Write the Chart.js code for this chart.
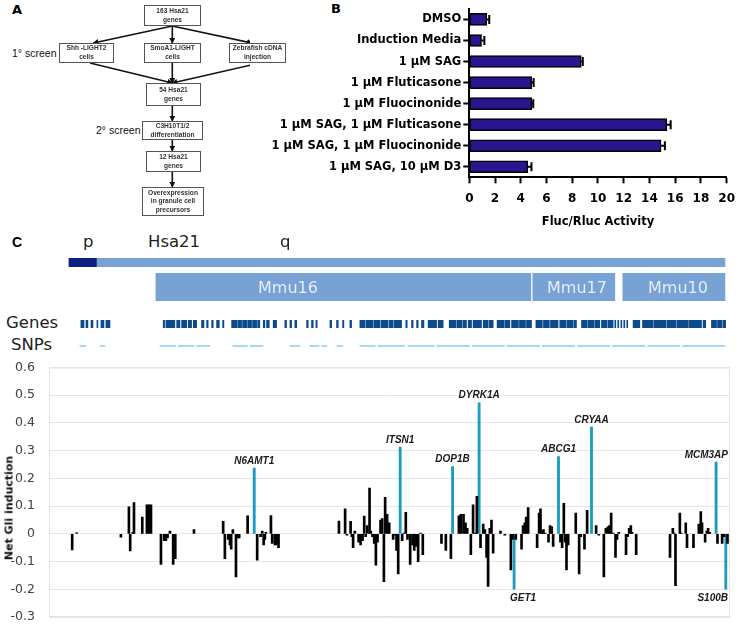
<!DOCTYPE html>
<html lang="en">
<head>
<meta charset="UTF-8" />
<title>Hsa21 Gli screen</title>
<script src="https://cdn.jsdelivr.net/npm/chart.js"></script>
<style>
  body { margin: 0; background: #fff; }
  #page { position: relative; width: 743px; height: 625px; overflow: hidden; font-family: "Liberation Sans", Arial, sans-serif; }
  .abs { position: absolute; }
  .panel { font-family: "DejaVu Sans", sans-serif; font-weight: bold; font-size: 13px; color: #000; }
  .box {
    position: absolute; box-sizing: border-box; border: 1px solid #555;
    display: flex; align-items: center; justify-content: center; text-align: center;
    font: bold 6.6px/8.6px "Liberation Sans", Arial, sans-serif; color: #333; background: #fff;
    will-change: transform; -webkit-font-smoothing: antialiased;
  }
  .mid { transform: translateY(-50%); line-height: 1; white-space: nowrap; }
  .screen { font-size: 10.5px; color: #111; }
  .trk { font-family: "DejaVu Sans", sans-serif; font-size: 16.5px; color: #222; }
  .mmu { font-family: "DejaVu Sans", sans-serif; font-size: 16px; color: #e3ecf8; transform: translate(-50%, -50%); line-height: 1; }
  canvas { position: absolute; }
</style>
</head>
<body>
<div id="page">
  <!-- panel A: flow chart -->
  <div class="abs panel" style="left:12px; top:2px;">A</div>
  <svg class="abs" style="left:0; top:0;" width="250" height="230">
    <defs>
      <marker id="ah" markerWidth="6" markerHeight="6" refX="5" refY="3" orient="auto" markerUnits="userSpaceOnUse">
        <path d="M0,0 L6,3 L0,6 z" fill="#111" />
      </marker>
    </defs>
    <g stroke="#111" stroke-width="1.6" marker-end="url(#ah)">
      <line x1="172.3" y1="26" x2="93.5" y2="43" />
      <line x1="172.3" y1="26" x2="172.3" y2="43" />
      <line x1="172.3" y1="26" x2="252" y2="43" />
      <line x1="90" y1="63" x2="172.3" y2="83" />
      <line x1="172.3" y1="63" x2="172.3" y2="83" />
      <line x1="251" y1="65" x2="172.3" y2="83" />
      <line x1="172.3" y1="105.7" x2="172.3" y2="120.7" />
      <line x1="172.3" y1="140" x2="172.3" y2="150.7" />
      <line x1="172.3" y1="171.7" x2="172.3" y2="186.7" />
    </g>
  </svg>
  <div class="box" style="left:144px; top:5px; width:57px; height:21px;">163 Hsa21<br>genes</div>
  <div class="box" style="left:59px; top:43px; width:55px; height:20px;">Shh -LIGHT2<br>cells</div>
  <div class="box" style="left:144px; top:43px; width:57px; height:20px;">SmoA1-LIGHT<br>cells</div>
  <div class="box" style="left:229px; top:43px; width:57px; height:20px;">Zebrafish cDNA<br>injection</div>
  <div class="box" style="left:146px; top:83px; width:55px; height:23px;">54 Hsa21<br>genes</div>
  <div class="box" style="left:142px; top:121px; width:61px; height:19px;">C3H10T1/2<br>differentiation</div>
  <div class="box" style="left:146px; top:151px; width:55px; height:21px;">12 Hsa21<br>genes</div>
  <div class="box" style="left:142px; top:187px; width:62px; height:29px;">Overexpression<br>in granule cell<br>precursors</div>
  <div class="abs mid screen" style="left:12px; top:52.5px;">1° screen</div>
  <div class="abs mid screen" style="left:96px; top:130px;">2° screen</div>

  <!-- panel B -->
  <div class="abs panel" style="left:331px; top:1px;">B</div>
  <canvas id="chartB" width="493" height="232" style="left:250px; top:0;"></canvas>

  <!-- panel C: map tracks -->
  <div class="abs panel" style="left:12px; top:234px; font-family:'Liberation Sans'; font-size:14px;">C</div>
  <div class="abs mid trk" style="left:83px; top:242px;">p</div>
  <div class="abs mid trk" style="left:148px; top:242px;">Hsa21</div>
  <div class="abs mid trk" style="left:280px; top:242px;">q</div>
  <canvas id="trkChrom" width="681" height="9" style="left:49px; top:258px;"></canvas>
  <canvas id="trkMmu" width="681" height="28" style="left:49px; top:273px;"></canvas>
  <div class="abs mmu" style="left:288px; top:287.5px;">Mmu16</div>
  <div class="abs mmu" style="left:577px; top:287.5px;">Mmu17</div>
  <div class="abs mmu" style="left:678px; top:287.5px;">Mmu10</div>
  <div class="abs mid trk" style="left:6px; top:323px;">Genes</div>
  <div class="abs mid trk" style="left:11px; top:344.5px;">SNPs</div>
  <canvas id="trkGenes" width="681" height="8" style="left:49px; top:320px;"></canvas>
  <canvas id="trkSnps" width="681" height="2" style="left:49px; top:344.5px;"></canvas>

  <!-- panel C: Gli induction -->
  <canvas id="chartC" width="743" height="270" style="left:0; top:355px;"></canvas>
  <div class="abs" style="left:8.7px; top:508px; transform:translate(-50%,-50%) rotate(-90deg); font:bold 11px 'DejaVu Sans'; color:#111; white-space:nowrap;">Net Gli induction</div>
</div>

<script>
  // ---- panel B: luciferase reporter ----
  const treatments = ['DMSO', 'Induction Media', '1 µM SAG', '1 µM Fluticasone', '1 µM Fluocinonide',
    '1 µM SAG, 1 µM Fluticasone', '1 µM SAG, 1 µM Fluocinonide', '1 µM SAG, 10 µM D3'];
  const flucMeans = [1.35, 0.95, 8.7, 4.85, 4.85, 15.35, 14.9, 4.55];
  const flucErrors = [0.2, 0.22, 0.12, 0.15, 0.12, 0.3, 0.3, 0.28];
  const activityTicks = [0, 2, 4, 6, 8, 10, 12, 14, 16, 18, 20];

  // ---- panel C: Hsa21 map (Mb) ----
  const mapMin = -1.42, mapMax = 47.06;
  const chromSegs = [[0, 2.0], [2.0, 46.7]];
  const mmuSegs = [[6.19, 32.88], [33.02, 38.86], [39.43, 46.7]];
  const geneSegs = [
    [0.85, 1.07], [1.21, 1.35], [1.57, 1.71], [1.99, 2.06], [2.28, 2.49], [2.63, 2.92],
    [6.71, 6.81], [6.90, 7.54], [7.67, 7.90], [8.02, 8.38], [8.49, 8.73], [8.85, 9.09],
    [9.44, 9.61], [9.80, 9.91], [10.16, 10.27], [10.51, 10.70], [10.94, 11.03],
    [11.58, 11.94], [12.01, 12.29], [12.36, 12.65], [12.72, 13.00], [13.07, 13.36], [13.43, 13.59],
    [13.83, 13.95], [14.07, 14.26], [14.54, 14.78], [15.37, 15.49], [15.73, 15.85], [16.08, 16.21],
    [16.92, 17.03], [17.27, 17.39], [17.58, 17.67], [18.58, 18.70], [19.05, 19.17], [19.48, 19.57], [20.00, 20.12],
    [20.71, 21.07], [21.14, 21.66], [21.73, 22.13], [22.21, 22.72], [22.80, 23.08], [23.15, 23.68],
    [23.98, 24.08], [24.39, 24.50], [24.75, 24.86], [25.10, 25.27], [25.57, 26.17], [26.28, 26.64],
    [27.07, 27.54], [27.61, 27.97], [28.04, 28.30], [28.42, 28.66], [28.77, 29.37], [29.49, 29.84], [29.91, 30.20],
    [30.48, 30.95], [31.02, 31.39], [31.51, 32.00], [32.07, 32.50], [32.57, 32.93],
    [33.24, 33.70], [33.78, 34.20], [34.28, 34.82], [34.94, 35.40], [35.47, 35.90], [35.97, 36.13],
    [36.49, 36.90], [36.97, 37.40], [37.47, 37.79], [37.91, 38.30], [38.37, 38.74],
    [38.86, 38.93], [39.07, 39.14], [39.29, 39.36], [39.50, 39.57], [39.71, 39.78],
    [40.16, 40.64], [40.83, 41.60], [41.67, 42.50], [42.57, 43.20], [43.27, 44.10], [44.17, 45.03],
    [45.14, 45.33], [45.74, 46.10], [46.17, 46.50], [46.57, 46.75]
  ];
  const snpSegs = [
    [0.78, 1.21], [2.21, 2.56], [6.48, 7.6], [7.8, 8.9], [9.1, 10.03], [11.67, 12.7], [12.9, 13.81],
    [15.73, 16.44], [17.15, 17.8], [18.0, 18.36], [19.07, 19.5], [20.71, 21.8], [22.0, 23.91],
    [24.13, 26.0], [26.2, 28.5], [28.7, 31.0], [31.2, 33.5], [33.7, 36.0], [36.2, 38.5],
    [38.7, 41.0], [41.2, 43.5], [43.7, 46.7]
  ];

  // genes screened (position in Mb, net Gli induction)
  const genePos = [
    0.23, 0.55, 3.70, 4.27, 4.36, 4.55, 4.63, 5.22, 5.55, 5.69, 5.84, 6.55, 6.78, 6.90, 7.02, 7.19, 7.42, 7.57, 8.90,
    10.98, 11.10, 11.34, 11.46, 11.55, 11.67, 11.89, 12.03, 12.12, 12.72, 13.40, 13.64, 13.76, 13.86, 13.95, 14.02,
    14.38, 14.47, 14.66, 14.78, 14.92,
    19.22, 19.66, 19.79, 20.05, 20.14, 20.23, 20.35, 20.62, 20.76, 20.90, 21.02, 21.12, 21.23, 21.40, 21.49, 21.61,
    21.73, 21.85, 21.97, 22.18, 22.30, 22.42, 22.51, 22.65, 22.80, 23.08, 23.22, 23.32, 23.44, 23.72, 23.84, 23.98,
    24.10, 24.29, 24.46, 24.58, 24.70, 24.86, 25.03, 25.19,
    26.52, 26.83, 27.19, 27.76, 27.90, 28.09, 28.23, 28.35, 28.61, 28.77, 28.92, 29.04, 29.30, 29.49, 29.61, 29.73,
    29.84, 29.96, 30.08, 30.20, 30.72, 31.03, 31.46, 31.58, 31.81, 32.22, 32.33, 32.45, 32.55, 32.69,
    33.33, 33.47, 33.57, 33.66, 33.78, 33.90, 34.14, 34.25, 34.37, 34.47, 34.99, 35.11, 35.23, 35.32, 35.42, 35.54,
    36.08, 36.32, 36.44, 36.70, 36.89, 37.53, 37.72, 38.08, 38.22, 38.36, 38.48, 38.60, 38.74, 38.91, 39.02, 39.14,
    39.66, 39.78, 39.88, 40.00, 40.09, 40.38,
    42.79, 42.99, 43.08, 43.18, 43.49, 43.61, 43.91, 44.00, 44.46, 44.84, 44.98, 45.07, 45.29, 45.41, 45.50, 45.62,
    46.17, 46.50, 46.64, 46.88
  ];
  const gliInduction = [
    -0.058, 0.004, -0.012, 0.097, -0.062, 0.005, 0.113, 0.06, 0.105, 0.105, 0.105, -0.11, -0.025, -0.025, -0.015, 0.01, -0.11, -0.09, 0.015,
    0.045, -0.09, -0.02, -0.04, -0.055, 0.015, -0.155, -0.015, -0.015, 0.065, -0.095, -0.01, 0.01, -0.04, -0.02, 0.005,
    0.066, -0.035, -0.04, -0.04, -0.05,
    0.046, 0.09, -0.005, 0.045, -0.01, -0.05, 0.01, -0.03, -0.04, -0.025, 0.064, -0.01, 0.03, 0.165, 0.01, -0.01,
    -0.035, -0.113, -0.03, 0.05, 0.055, -0.173, 0.132, 0.07, 0.04, -0.02, -0.005, -0.06, -0.145, -0.025, 0.003, 0.078,
    -0.02, -0.11, -0.04, -0.06, -0.045, -0.1, 0.003, -0.075,
    -0.035, -0.06, -0.09, 0.065, 0.07, 0.07, 0.04, 0.02, -0.075, 0.105, 0.003, 0.135, -0.05, 0.035, 0.015, -0.085,
    -0.19, 0.02, 0.05, -0.07, 0.01, -0.005, -0.13, -0.02, -0.02, -0.055, 0.03, 0.04, 0.06, 0.095,
    -0.05, 0.075, 0.09, 0.01, 0.015, 0.003, -0.03, 0.03, 0.025, -0.045, -0.03, -0.05, 0.11, -0.03, -0.13, -0.04,
    0.075, -0.145, -0.01, -0.055, 0.085, 0.03, -0.005, -0.155, 0.02, 0.025, 0.03, 0.075, 0.003, -0.085, -0.02, 0.005,
    -0.075, -0.01, 0.02, 0.03, 0.005, -0.075,
    -0.085, 0.02, 0.003, -0.187, 0.075, 0.003, 0.04, -0.05, -0.05, 0.035, 0.08, 0.04, -0.03, 0.01, 0.02, 0.005,
    -0.035, -0.035, -0.01, -0.035
  ];
  // highlighted hits
  const hitNames = ['N6AMT1', 'ITSN1', 'DOP1B', 'DYRK1A', 'GET1', 'ABCG1', 'CRYAA', 'MCM3AP', 'S100B'];
  const hitPos = [13.19, 23.58, 27.31, 29.20, 31.69, 34.85, 37.20, 46.07, 46.76];
  const hitInduction = [0.237, 0.313, 0.243, 0.473, -0.2, 0.279, 0.385, 0.259, -0.2];

  const gliTicks = [-0.3, -0.2, -0.1, 0, 0.1, 0.2, 0.3, 0.4, 0.5, 0.6];

  // ---- plugins ----
  const errorBars = {
    id: 'errorBars',
    afterDatasetsDraw(chart) {
      const ctx = chart.ctx, x = chart.scales.x;
      ctx.save();
      ctx.strokeStyle = '#000';
      ctx.lineWidth = 2;
      chart.getDatasetMeta(0).data.forEach((bar, i) => {
        const end = x.getPixelForValue(flucMeans[i] + flucErrors[i]);
        ctx.beginPath();
        ctx.moveTo(bar.x, bar.y);
        ctx.lineTo(end, bar.y);
        ctx.moveTo(end, bar.y - 4.5);
        ctx.lineTo(end, bar.y + 4.5);
        ctx.stroke();
      });
      ctx.restore();
    }
  };

  const plotFrame = {
    id: 'plotFrame',
    beforeDatasetsDraw(chart) {
      const {ctx, chartArea: a} = chart;
      ctx.save();
      ctx.strokeStyle = '#e2e2e2';
      ctx.lineWidth = 1;
      ctx.strokeRect(a.left + 0.5, a.top + 0.5, a.right - a.left - 1, a.bottom - a.top - 1);
      ctx.restore();
    }
  };

  const labelNudge = { GET1: 9 };
  const hitLabels = {
    id: 'hitLabels',
    afterDatasetsDraw(chart) {
      const {ctx, chartArea: a} = chart;
      ctx.save();
      ctx.font = 'italic bold 10px "Liberation Sans", Arial, sans-serif';
      ctx.fillStyle = '#1a1a1a';
      ctx.textAlign = 'center';
      chart.getDatasetMeta(1).data.forEach((bar, i) => {
        const name = hitNames[i];
        const w = ctx.measureText(name).width;
        const cx = Math.min(bar.x + (labelNudge[name] || 0), a.right - 2 - w / 2);
        if (hitInduction[i] >= 0) {
          ctx.textBaseline = 'alphabetic';
          ctx.fillText(name, cx, bar.y - 4.5);
        } else {
          ctx.textBaseline = 'top';
          ctx.fillText(name, cx, bar.y + 3.5);
        }
      });
      ctx.restore();
    }
  };

  // ---- panel B chart ----
  const boldFont = (size) => ({ family: 'DejaVu Sans', size: size, weight: 'bold' });
  new Chart(document.getElementById('chartB'), {
    type: 'bar',
    data: {
      labels: treatments,
      datasets: [{
        data: flucMeans,
        backgroundColor: '#28168e',
        borderColor: '#000',
        borderWidth: 1.5,
        borderSkipped: false,
        barThickness: 12
      }]
    },
    options: {
      indexAxis: 'y',
      responsive: false,
      animation: false,
      events: [],
      layout: { padding: { top: 7.6, right: 10.7, bottom: 0, left: 0 } },
      plugins: { legend: { display: false }, tooltip: { enabled: false } },
      scales: {
        x: {
          min: activityTicks[0],
          max: activityTicks[activityTicks.length - 1],
          afterBuildTicks: (s) => { s.ticks = activityTicks.map(v => ({ value: v })); },
          ticks: { color: '#000', font: boldFont(12), padding: 8 },
          grid: { drawOnChartArea: false, tickLength: 6, tickWidth: 2, tickColor: '#000' },
          border: { color: '#000', width: 2 },
          title: { display: true, text: 'Fluc/Rluc Activity', color: '#000', font: boldFont(11.5), padding: { top: 4, bottom: 3 } },
          afterFit: (s) => { s.height = 54.7; }
        },
        y: {
          ticks: { color: '#000', font: boldFont(11.5), padding: 2 },
          grid: { offset: false, drawOnChartArea: false, tickLength: 6, tickWidth: 2, tickColor: '#000' },
          border: { color: '#000', width: 2 },
          afterFit: (s) => { s.width = 219.3; }
        }
      }
    },
    plugins: [errorBars]
  });

  // ---- panel C tracks ----
  function drawTrack(id, segs, colors) {
    new Chart(document.getElementById(id), {
      type: 'bar',
      data: {
        labels: ['t'],
        datasets: [{
          data: segs.map(s => ({ x: s, y: 't' })),
          backgroundColor: colors,
          borderWidth: 0,
          barPercentage: 1,
          categoryPercentage: 1
        }]
      },
      options: {
        indexAxis: 'y',
        responsive: false,
        animation: false,
        events: [],
        plugins: { legend: { display: false }, tooltip: { enabled: false } },
        scales: {
          x: { type: 'linear', min: mapMin, max: mapMax, display: false },
          y: { display: false }
        }
      }
    });
  }
  drawTrack('trkChrom', chromSegs, ['#0b1f80', '#78a2d4']);
  drawTrack('trkMmu', mmuSegs, '#78a2d4');
  drawTrack('trkGenes', geneSegs, '#0c4a8c');
  drawTrack('trkSnps', snpSegs, '#a9d8f2');

  // ---- panel C Gli chart ----
  new Chart(document.getElementById('chartC'), {
    type: 'bar',
    data: {
      datasets: [
        {
          data: genePos.map((x, i) => ({ x: x, y: gliInduction[i] })),
          backgroundColor: '#000',
          barThickness: 2,
          grouped: false
        },
        {
          data: hitPos.map((x, i) => ({ x: x, y: hitInduction[i] })),
          backgroundColor: '#1c9dc0',
          barThickness: 2.2,
          grouped: false
        }
      ]
    },
    options: {
      responsive: false,
      animation: false,
      events: [],
      layout: { padding: { top: 12.5, right: 13, bottom: 8, left: 0 } },
      plugins: { legend: { display: false }, tooltip: { enabled: false } },
      scales: {
        x: { type: 'linear', min: mapMin, max: mapMax, offset: false, display: false },
        y: {
          min: gliTicks[0],
          max: gliTicks[gliTicks.length - 1],
          afterBuildTicks: (s) => { s.ticks = gliTicks.map(v => ({ value: v })); },
          ticks: { color: '#404040', font: { family: 'DejaVu Sans', size: 12.5 }, padding: 0, callback: (v) => String(+v.toFixed(1)) },
          grid: { color: '#e6e6e6', lineWidth: 1, drawTicks: true, tickLength: 14, tickColor: 'rgba(0,0,0,0)' },
          border: { display: false },
          afterFit: (s) => { s.width = 49; }
        }
      }
    },
    plugins: [plotFrame, hitLabels]
  });
</script>
</body>
</html>
